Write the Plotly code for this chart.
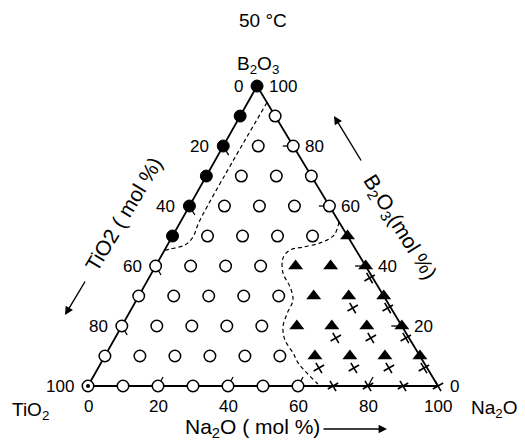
import plotly.graph_objects as go

# compositions in mol%; TiO2 = 100 - Na2O - B2O3
filled_na2o = [0, 0, 0, 0, 0, 0]
filled_b2o3 = [100, 90, 80, 70, 60, 50]

open_na2o = [10,
             10, 20,
             10, 20, 30,
             10, 20, 30, 40,
             10, 20, 30, 40,
             0, 10, 20, 30,
             0, 10, 20, 30, 40,
             0, 10, 20, 30, 40,
             0, 10, 20, 30, 40, 50,
             0, 10, 20, 30, 40, 50, 60]
open_b2o3 = [90,
             80, 80,
             70, 70, 70,
             60, 60, 60, 60,
             50, 50, 50, 50,
             40, 40, 40, 40,
             30, 30, 30, 30, 30,
             20, 20, 20, 20, 20,
             10, 10, 10, 10, 10, 10,
             0, 0, 0, 0, 0, 0, 0]

tri_na2o = [50, 40, 50, 60, 50, 60, 70, 50, 60, 70, 80, 60, 70, 80, 90]
tri_b2o3 = [50, 40, 40, 40, 30, 30, 30, 20, 20, 20, 20, 10, 10, 10, 10]

# crosses drawn together with a triangle
cross_na2o = [60, 60, 70, 60, 70, 80, 60, 70, 80, 90]
cross_b2o3 = [40, 30, 30, 20, 20, 20, 10, 10, 10, 10]
# crosses alone on the TiO2-Na2O side
cross0_na2o = [70, 80, 90, 100]
cross0_b2o3 = [0, 0, 0, 0]

# dashed phase boundaries
bound1_na2o = [5.5, 5.3, 6.0, 5.0, 1.5, 0]
bound1_b2o3 = [94.5, 55, 49.5, 47, 45.7, 45.3]
bound2_na2o = [45.3, 46.0, 43.3, 39.0, 35.8, 35.1, 37.5, 41.8, 44.7, 45.2,
               46.2, 48.9, 53.3, 56.3, 60.5, 64.9, 66.3]
bound2_b2o3 = [54.7, 50.3, 47.7, 46.3, 45.3, 42.7, 37.7, 33.0, 28.7, 24.3,
               19.7, 15.3, 11.0, 7.7, 4.3, 1.0, 0]

tick_vals = [0, 20, 40, 60, 80, 100]
tick_text = ["0", "20", "40", "60", "80", "100"]

W, H = 525, 445
PX = 3.5          # pixels per mol%
SKEW = 0.483      # the drawn triangle leans a little to the left
RISE = 0.857
FONT = "Liberation Sans, Arial, sans-serif"


def to_xy(na2o, b2o3):
    xs = [n + SKEW * b for n, b in zip(na2o, b2o3)]
    ys = [RISE * b for b in b2o3]
    return xs, ys


fig = go.Figure()

# triangle outline
ox, oy = to_xy([0, 100, 0, 0], [0, 0, 100, 0])
fig.add_trace(go.Scatter(x=ox, y=oy, mode="lines",
                         line=dict(color="black", width=1.8), hoverinfo="skip"))

# small ticks pointing inwards along the grid lines
tx, ty = [], []
for v in tick_vals[1:-1]:
    for seg in ([v, v], [0, 3]), ([3, 0], [100 - v - 3, 100 - v]), ([100 - v - 3, 100 - v], [v, v]):
        sx, sy = to_xy(*seg)
        tx += sx + [None]
        ty += sy + [None]
fig.add_trace(go.Scatter(x=tx, y=ty, mode="lines",
                         line=dict(color="black", width=1.3), hoverinfo="skip"))

# boundaries
for na, b in ((bound1_na2o, bound1_b2o3), (bound2_na2o, bound2_b2o3)):
    bx, by = to_xy(na, b)
    fig.add_trace(go.Scatter(x=bx, y=by, mode="lines",
                             line=dict(color="black", width=1.2, dash="4px,3px", shape="spline"),
                             hoverinfo="skip"))

x, y = to_xy(open_na2o, open_b2o3)
fig.add_trace(go.Scatter(x=x, y=y, mode="markers",
                         marker=dict(symbol="circle", size=11.5, color="white",
                                     line=dict(color="black", width=1.5))))
x, y = to_xy(filled_na2o, filled_b2o3)
fig.add_trace(go.Scatter(x=x, y=y, mode="markers",
                         marker=dict(symbol="circle", size=12, color="black",
                                     line=dict(color="black", width=1))))
x, y = to_xy([0], [0])
fig.add_trace(go.Scatter(x=x, y=y, mode="markers",
                         marker=dict(symbol="circle", size=4, color="black")))
x, y = to_xy(tri_na2o, tri_b2o3)
fig.add_trace(go.Scatter(x=x, y=y, mode="markers",
                         marker=dict(symbol="triangle-up", size=13, color="black")))
x, y = to_xy(cross_na2o, cross_b2o3)
x = [v + 4 / PX for v in x]
y = [v - 12 / PX for v in y]
fig.add_trace(go.Scatter(x=x, y=y, mode="markers",
                         marker=dict(symbol="x-thin", size=8.5, angle=15,
                                     line=dict(color="black", width=1.6))))
x, y = to_xy(cross0_na2o, cross0_b2o3)
fig.add_trace(go.Scatter(x=x, y=y, mode="markers",
                         marker=dict(symbol="x-thin", size=8.5, angle=15,
                                     line=dict(color="black", width=1.6))))

ann = []
# tick labels: Na2O along the base, TiO2 on the left side, B2O3 on the right side
for v, t in zip(tick_vals, tick_text):
    bx, by = to_xy([v], [0])
    ann.append(dict(x=bx[0], y=by[0], text=t, yshift=-20, xanchor="center", yanchor="middle"))
    lx, ly = to_xy([0], [100 - v])
    ann.append(dict(x=lx[0], y=ly[0], text=t, xshift=-12, xanchor="right", yanchor="middle"))
    rx, ry = to_xy([100 - v], [v])
    ann.append(dict(x=rx[0], y=ry[0], text=t, xshift=10, xanchor="left", yanchor="middle"))
for a in ann:
    a.update(xref="x", yref="y", showarrow=False, font=dict(size=17))


def paper(px, py):
    return px / W, 1 - py / H


def label(px, py, text, size, angle=0):
    xp, yp = paper(px, py)
    ann.append(dict(x=xp, y=yp, xref="paper", yref="paper", text=text, showarrow=False,
                    textangle=angle, font=dict(size=size), xanchor="center", yanchor="middle"))


def arrow(x0, y0, x1, y1):
    xp, yp = paper(x1, y1)
    ann.append(dict(x=xp, y=yp, xref="paper", yref="paper", ax=x0 - x1, ay=y0 - y1,
                    showarrow=True, arrowhead=2, arrowsize=1.2, arrowwidth=1.4,
                    arrowcolor="black", text=""))


label(263, 20, "50 °C", 19)
label(258, 65, "B<sub>2</sub>O<sub>3</sub>", 19)
label(30, 411, "TiO<sub>2</sub>", 19)
label(494, 409, "Na<sub>2</sub>O", 19)
label(123, 214, "TiO2 ( mol %)", 21, -59)
label(399, 227, "B<sub>2</sub>O<sub>3</sub>(mol %)", 21, 58)
label(252, 428, "Na<sub>2</sub>O ( mol %)", 21)
arrow(86, 280, 65, 315)
arrow(362, 162, 334, 116)
arrow(322, 429, 387, 429)

fig.update_layout(
    width=W, height=H,
    margin=dict(l=0, r=0, t=0, b=0),
    paper_bgcolor="white", plot_bgcolor="white",
    showlegend=False,
    font=dict(family=FONT, color="black"),
    xaxis=dict(range=[-88 / PX, (W - 88) / PX], visible=False, fixedrange=True),
    yaxis=dict(range=[-(H - 386) / PX, 386 / PX], visible=False, fixedrange=True),
    annotations=ann,
)

# the page's default body margin would push the fixed-size figure off the window
fig.write_html("out.html", config={"displayModeBar": False},
               post_script="document.body.style.margin='0px';")
